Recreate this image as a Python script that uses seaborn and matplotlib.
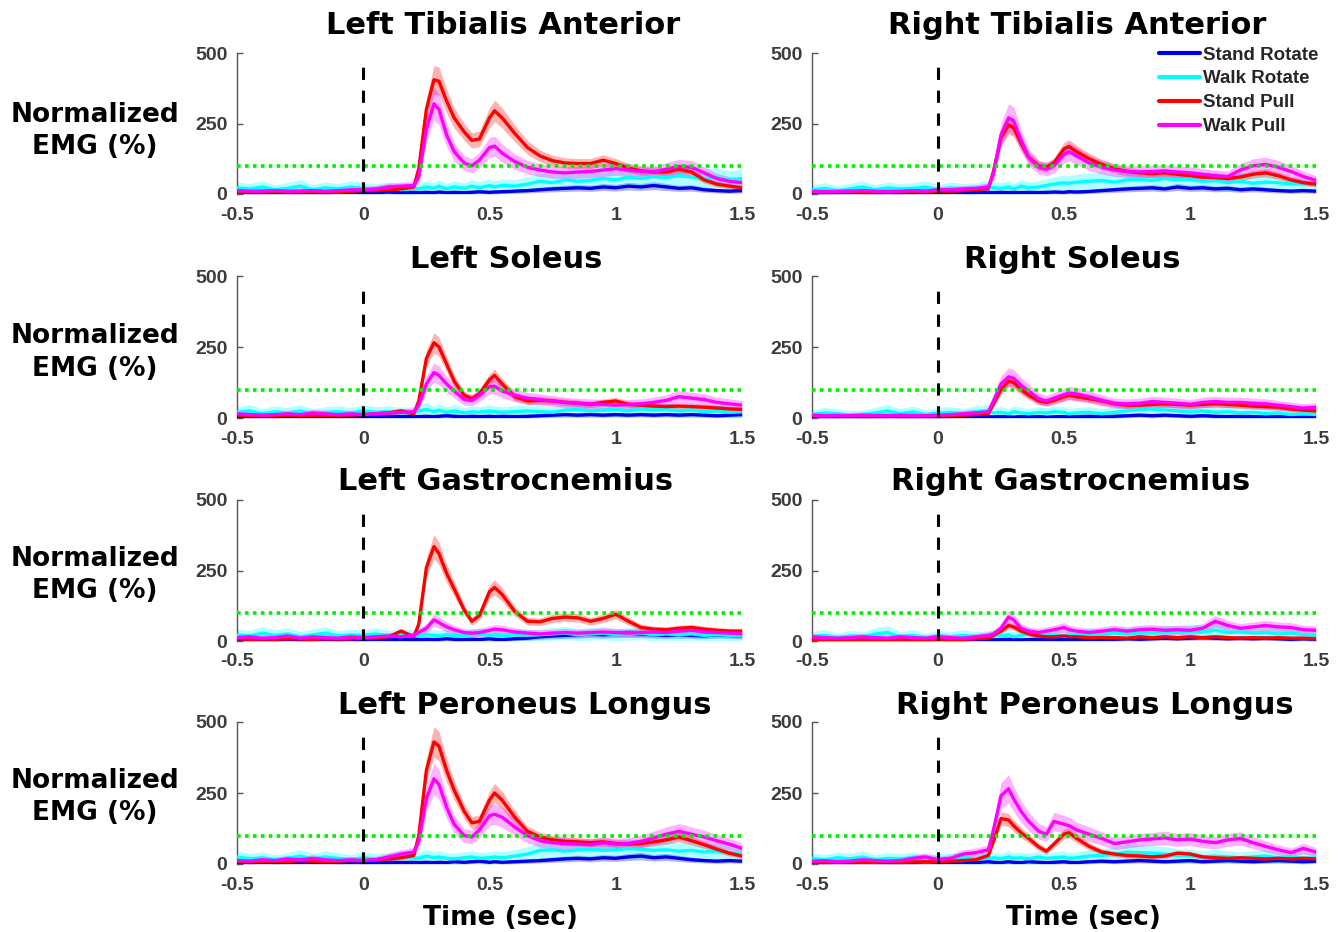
import matplotlib
matplotlib.use("Agg")
import matplotlib.pyplot as plt
import numpy as np
import pandas as pd
import seaborn as sns
from matplotlib.lines import Line2D

# ---------------- data ----------------
TIME = [-0.5, -0.45, -0.4, -0.35, -0.3, -0.25, -0.2, -0.15, -0.1, -0.05, 0.0, 0.05, 0.1, 0.15, 0.2,
        0.22, 0.25, 0.28, 0.3, 0.33, 0.36, 0.4, 0.43, 0.46, 0.5, 0.52, 0.55, 0.6,
        0.65, 0.7, 0.75, 0.8, 0.85, 0.9, 0.95, 1.0, 1.05, 1.1, 1.15, 1.2, 1.25, 1.3, 1.35, 1.4, 1.45, 1.5]

CONDITIONS = ["Stand Rotate", "Walk Rotate", "Stand Pull", "Walk Pull"]
MUSCLES = ["Left Tibialis Anterior", "Right Tibialis Anterior",
           "Left Soleus", "Right Soleus",
           "Left Gastrocnemius", "Right Gastrocnemius",
           "Left Peroneus Longus", "Right Peroneus Longus"]
X_TICKS = [-0.5, 0, 0.5, 1, 1.5]
X_TICK_LABELS = ["-0.5", "0", "0.5", "1", "1.5"]
Y_TICKS = [0, 250, 500]
THRESHOLD = 100

# Left Tibialis Anterior
LTA_STAND_ROTATE = [8, 5, 6, 4, 7, 5, 6, 4, 8, 5, 6, 5, 7, 5, 6,
                    5, 6, 5, 7, 5, 6, 5, 6, 8, 6, 7, 8, 10,
                    12, 15, 18, 20, 22, 20, 25, 22, 28, 25, 30, 25, 20, 22, 15, 12, 10, 12]
LTA_WALK_ROTATE = [22, 18, 25, 15, 20, 28, 15, 22, 18, 25, 20, 18, 22, 15, 20,
                   18, 25, 20, 28, 18, 25, 20, 28, 22, 30, 25, 30, 28,
                   35, 45, 40, 50, 45, 48, 55, 50, 60, 55, 62, 58, 65, 60, 55, 58, 50, 55]
LTA_STAND_PULL = [10, 8, 9, 10, 8, 9, 10, 8, 9, 10, 12, 12, 15, 18, 25,
                  90, 300, 405, 400, 330, 270, 220, 190, 195, 270, 295, 270, 215,
                  165, 135, 118, 110, 108, 108, 120, 108, 92, 82, 78, 78, 88, 78, 50, 35, 28, 22]
LTA_WALK_PULL = [12, 10, 10, 12, 10, 10, 12, 10, 12, 15, 15, 18, 25, 28, 30,
                 60, 230, 320, 300, 210, 150, 110, 100, 120, 165, 170, 145, 115,
                 95, 85, 78, 75, 78, 80, 85, 90, 85, 80, 78, 88, 98, 95, 75, 55, 45, 40]

# Right Tibialis Anterior
RTA_STAND_ROTATE = [5, 6, 4, 5, 6, 5, 4, 6, 5, 5, 6, 5, 6, 5, 6,
                    5, 6, 5, 6, 5, 6, 5, 6, 7, 6, 8, 7, 9,
                    12, 15, 18, 20, 22, 18, 25, 20, 22, 18, 20, 15, 18, 15, 12, 10, 12, 10]
RTA_WALK_ROTATE = [15, 20, 12, 18, 25, 15, 22, 18, 20, 25, 15, 22, 18, 20, 25,
                   22, 20, 25, 18, 28, 22, 25, 30, 35, 40, 38, 42, 45,
                   48, 42, 50, 52, 48, 55, 50, 52, 45, 48, 40, 45, 38, 42, 40, 35, 38, 32]
RTA_STAND_PULL = [8, 7, 8, 9, 8, 8, 9, 8, 10, 9, 10, 10, 12, 15, 20,
                  80, 200, 245, 235, 180, 130, 100, 95, 110, 160, 168, 150, 125,
                  105, 90, 80, 75, 72, 75, 70, 65, 60, 58, 55, 60, 70, 75, 65, 50, 40, 35]
RTA_WALK_PULL = [10, 8, 9, 10, 12, 10, 8, 10, 12, 10, 15, 15, 18, 20, 25,
                 70, 210, 270, 260, 190, 130, 95, 88, 100, 140, 150, 135, 110,
                 95, 85, 80, 78, 80, 82, 78, 75, 70, 65, 62, 85, 100, 105, 95, 80, 62, 48]

# Left Soleus
LSO_STAND_ROTATE = [5, 4, 6, 5, 4, 6, 5, 4, 5, 6, 5, 4, 6, 5, 5,
                    5, 6, 5, 6, 8, 6, 5, 6, 5, 6, 5, 6, 5,
                    6, 8, 10, 12, 10, 12, 10, 12, 10, 12, 10, 12, 10, 12, 10, 8, 10, 12]
LSO_WALK_ROTATE = [20, 25, 15, 22, 18, 25, 15, 20, 22, 18, 25, 20, 22, 18, 20,
                   25, 30, 22, 28, 20, 25, 18, 22, 20, 25, 22, 20, 22,
                   25, 22, 20, 28, 30, 25, 28, 30, 25, 32, 28, 30, 25, 28, 22, 25, 20, 22]
LSO_STAND_PULL = [10, 8, 9, 8, 10, 9, 8, 9, 10, 10, 12, 15, 18, 25, 15,
                  60, 210, 265, 250, 190, 130, 80, 68, 85, 135, 150, 120, 75,
                  60, 62, 60, 55, 52, 48, 55, 60, 48, 45, 42, 40, 42, 40, 38, 35, 32, 30]
LSO_WALK_PULL = [15, 12, 10, 12, 15, 12, 18, 15, 12, 15, 12, 15, 18, 20, 22,
                 45, 120, 160, 150, 120, 95, 65, 62, 80, 110, 112, 95, 80,
                 70, 65, 60, 55, 52, 50, 48, 45, 48, 50, 55, 62, 75, 70, 65, 55, 50, 45]

# Right Soleus
RSO_STAND_ROTATE = [4, 5, 3, 4, 5, 3, 4, 5, 3, 4, 5, 4, 3, 5, 4,
                    4, 5, 4, 3, 5, 4, 5, 3, 4, 5, 4, 5, 6,
                    5, 6, 8, 10, 8, 10, 8, 6, 8, 6, 5, 6, 5, 4, 5, 4, 3, 4]
RSO_WALK_ROTATE = [12, 18, 15, 10, 12, 18, 25, 15, 22, 12, 18, 20, 15, 22, 25,
                   18, 20, 15, 22, 18, 15, 20, 18, 22, 20, 15, 18, 20,
                   15, 20, 25, 30, 32, 28, 25, 22, 25, 20, 22, 18, 20, 15, 18, 12, 15, 12]
RSO_STAND_PULL = [8, 6, 7, 8, 6, 7, 8, 7, 6, 8, 7, 8, 10, 12, 15,
                  50, 100, 130, 125, 100, 80, 60, 55, 62, 75, 80, 75, 68,
                  60, 50, 45, 45, 48, 50, 48, 45, 48, 50, 48, 45, 42, 40, 38, 32, 28, 25]
RSO_WALK_PULL = [10, 8, 9, 8, 10, 9, 8, 10, 9, 8, 10, 12, 15, 18, 22,
                 60, 120, 145, 140, 115, 95, 68, 60, 70, 82, 88, 85, 75,
                 62, 52, 50, 52, 58, 55, 52, 48, 55, 58, 55, 55, 52, 50, 45, 40, 35, 38]

# Left Gastrocnemius
LGA_STAND_ROTATE = [5, 6, 4, 5, 6, 5, 4, 6, 5, 4, 6, 5, 6, 5, 6,
                    5, 6, 5, 6, 8, 6, 5, 6, 5, 8, 6, 5, 8,
                    10, 15, 18, 20, 22, 25, 22, 25, 28, 25, 22, 20, 22, 20, 18, 22, 20, 18]
LGA_WALK_ROTATE = [22, 18, 28, 20, 25, 15, 22, 28, 18, 22, 20, 25, 18, 22, 20,
                   18, 22, 20, 18, 22, 20, 18, 22, 25, 20, 22, 18, 22,
                   20, 22, 25, 28, 22, 25, 28, 22, 25, 28, 22, 25, 22, 25, 20, 22, 20, 18]
LGA_STAND_PULL = [8, 6, 7, 6, 8, 7, 6, 8, 7, 8, 10, 12, 15, 35, 15,
                  60, 260, 335, 310, 240, 185, 110, 70, 90, 175, 190, 165, 105,
                  70, 68, 80, 85, 82, 70, 80, 95, 70, 48, 42, 40, 45, 48, 42, 38, 35, 35]
LGA_WALK_PULL = [12, 15, 10, 12, 18, 10, 15, 12, 10, 15, 12, 15, 18, 15, 20,
                 30, 45, 75, 65, 50, 40, 30, 28, 30, 38, 42, 40, 32,
                 28, 25, 28, 30, 28, 30, 32, 30, 28, 30, 32, 30, 35, 38, 32, 30, 28, 25]

# Right Gastrocnemius
RGA_STAND_ROTATE = [5, 4, 5, 6, 4, 5, 6, 5, 4, 6, 5, 4, 5, 4, 5,
                    4, 5, 6, 5, 4, 5, 6, 5, 4, 5, 6, 5, 6,
                    5, 6, 8, 6, 8, 10, 8, 10, 12, 10, 8, 10, 8, 10, 8, 6, 8, 6]
RGA_WALK_ROTATE = [15, 20, 12, 18, 15, 25, 30, 15, 20, 12, 18, 15, 20, 15, 18,
                   20, 18, 22, 15, 20, 25, 18, 22, 20, 18, 22, 20, 25,
                   22, 28, 25, 30, 28, 32, 30, 35, 32, 38, 30, 32, 28, 30, 25, 28, 22, 20]
RGA_STAND_PULL = [5, 6, 4, 5, 6, 4, 5, 6, 5, 4, 6, 5, 6, 8, 10,
                  20, 35, 55, 50, 35, 25, 18, 15, 15, 18, 15, 15, 12,
                  12, 12, 10, 15, 12, 15, 12, 15, 12, 15, 12, 10, 12, 10, 12, 10, 10, 8]
RGA_WALK_PULL = [15, 12, 10, 12, 15, 12, 10, 15, 12, 10, 15, 12, 10, 15, 20,
                 25, 45, 85, 75, 45, 35, 30, 35, 40, 48, 40, 35, 30,
                 35, 40, 35, 40, 42, 38, 40, 38, 45, 70, 55, 45, 50, 55, 50, 48, 40, 38]

# Left Peroneus Longus
LPL_STAND_ROTATE = [5, 4, 6, 5, 6, 5, 4, 6, 5, 5, 6, 4, 6, 5, 6,
                    5, 6, 5, 6, 5, 8, 6, 8, 10, 6, 8, 6, 8,
                    10, 12, 15, 18, 20, 18, 22, 20, 25, 28, 22, 25, 20, 15, 12, 10, 12, 10]
LPL_WALK_ROTATE = [25, 18, 22, 15, 20, 28, 18, 25, 20, 15, 22, 18, 20, 25, 22,
                   20, 28, 22, 25, 20, 18, 22, 25, 20, 22, 25, 22, 28,
                   35, 48, 50, 45, 50, 52, 48, 50, 55, 52, 48, 50, 45, 48, 42, 45, 40, 35]
LPL_STAND_PULL = [10, 8, 9, 10, 8, 12, 10, 9, 10, 12, 12, 15, 18, 22, 30,
                  100, 330, 430, 415, 330, 260, 185, 145, 150, 225, 250, 225, 165,
                  115, 95, 85, 80, 78, 75, 78, 72, 70, 72, 78, 85, 95, 82, 68, 52, 38, 28]
LPL_WALK_PULL = [12, 10, 15, 12, 18, 15, 20, 15, 12, 15, 12, 15, 25, 35, 42,
                 80, 230, 300, 280, 200, 140, 100, 95, 120, 170, 175, 165, 130,
                 100, 82, 75, 72, 70, 68, 75, 70, 72, 80, 92, 105, 115, 105, 95, 82, 70, 55]

# Right Peroneus Longus
RPL_STAND_ROTATE = [6, 5, 8, 5, 6, 8, 5, 6, 5, 8, 6, 5, 6, 5, 8,
                    6, 5, 8, 6, 5, 8, 6, 5, 6, 8, 6, 5, 8,
                    10, 8, 10, 12, 10, 8, 10, 12, 8, 10, 12, 10, 8, 10, 12, 10, 8, 10]
RPL_WALK_ROTATE = [20, 15, 22, 18, 25, 15, 20, 18, 22, 15, 18, 20, 22, 18, 20,
                   22, 18, 25, 20, 22, 18, 25, 20, 22, 25, 20, 22, 28,
                   30, 35, 42, 40, 38, 35, 30, 28, 25, 28, 25, 22, 25, 28, 22, 25, 20, 22]
RPL_STAND_PULL = [8, 6, 7, 8, 6, 7, 8, 6, 7, 8, 8, 10, 12, 15, 30,
                  80, 160, 155, 135, 110, 90, 60, 45, 70, 105, 110, 90, 62,
                  42, 35, 30, 28, 25, 28, 38, 35, 25, 22, 20, 22, 20, 18, 20, 18, 20, 18]
RPL_WALK_PULL = [10, 12, 8, 10, 15, 12, 10, 12, 20, 25, 15, 20, 35, 40, 50,
                 120, 240, 265, 230, 185, 150, 115, 105, 150, 140, 135, 120, 105,
                 90, 72, 78, 85, 88, 92, 85, 88, 80, 75, 85, 90, 75, 62, 50, 40, 55, 42]

PANEL_DATA = [
    [LTA_STAND_ROTATE, LTA_WALK_ROTATE, LTA_STAND_PULL, LTA_WALK_PULL],
    [RTA_STAND_ROTATE, RTA_WALK_ROTATE, RTA_STAND_PULL, RTA_WALK_PULL],
    [LSO_STAND_ROTATE, LSO_WALK_ROTATE, LSO_STAND_PULL, LSO_WALK_PULL],
    [RSO_STAND_ROTATE, RSO_WALK_ROTATE, RSO_STAND_PULL, RSO_WALK_PULL],
    [LGA_STAND_ROTATE, LGA_WALK_ROTATE, LGA_STAND_PULL, LGA_WALK_PULL],
    [RGA_STAND_ROTATE, RGA_WALK_ROTATE, RGA_STAND_PULL, RGA_WALK_PULL],
    [LPL_STAND_ROTATE, LPL_WALK_ROTATE, LPL_STAND_PULL, LPL_WALK_PULL],
    [RPL_STAND_ROTATE, RPL_WALK_ROTATE, RPL_STAND_PULL, RPL_WALK_PULL],
]

# ---------------- style ----------------
COLORS = {"Stand Rotate": "#0000e6", "Walk Rotate": "#00ffff",
          "Stand Pull": "#ff0000", "Walk Pull": "#ff00ff"}
BAND_REL = {"Stand Rotate": 0.35, "Walk Rotate": 0.4, "Stand Pull": 0.11, "Walk Pull": 0.15}
BAND_ABS = {"Stand Rotate": 4, "Walk Rotate": 12, "Stand Pull": 6, "Walk Pull": 10}

sns.set_style("white")
plt.rcParams["font.family"] = ["DejaVu Sans"]
TICK_FONT = dict(family="Liberation Sans", weight="bold", size=14)
TICK_COLOR = "#3c3c3c"

W, H = 1344, 932
fig = plt.figure(figsize=(W / 100, H / 100), dpi=100)

col_x = [237, 812]
col_w = [505, 504]
row_top = [53, 276, 500, 722]
row_bot = [194, 418, 641, 864]
title_y = [25, 259, 482, 705]
title_x = [[503, 1077], [506, 1072], [506, 1071], [525, 1095]]
ylab_y = [131, 353, 575, 797]

axes = []
for i, muscle in enumerate(MUSCLES):
    r, c = divmod(i, 2)
    ax = fig.add_axes([col_x[c] / W, 1 - row_bot[r] / H, col_w[c] / W, (row_bot[r] - row_top[r]) / H])
    axes.append(ax)
    series = PANEL_DATA[i]
    frames = []
    for cond, vals in zip(CONDITIONS, series):
        v = np.asarray(vals, dtype=float)
        half = BAND_REL[cond] * v + BAND_ABS[cond]
        ax.fill_between(TIME, np.clip(v - half, 0, None), v + half,
                        color=COLORS[cond], alpha=0.3, linewidth=0, zorder=1)
        frames.append(pd.DataFrame({"time": TIME, "emg": v, "condition": cond}))
    df = pd.concat(frames, ignore_index=True)
    sns.lineplot(data=df, x="time", y="emg", hue="condition", hue_order=CONDITIONS,
                 palette=COLORS, linewidth=2.4, legend=False, errorbar=None, ax=ax, zorder=3)

    ax.axhline(THRESHOLD, color="#00ee00", linestyle=(0, (1, 1.2)), linewidth=2.6, zorder=4)
    ax.vlines(0, 0, 482, colors="black", linestyles=(0, (4, 3.5)), linewidth=2.2, zorder=5)

    ax.set_xlim(-0.5, 1.5)
    ax.set_ylim(0, 500)
    ax.set_xticks(X_TICKS)
    ax.set_xticklabels(X_TICK_LABELS, fontdict=TICK_FONT, color=TICK_COLOR)
    ax.set_yticks(Y_TICKS)
    ax.set_yticklabels([str(t) for t in Y_TICKS], fontdict=TICK_FONT, color=TICK_COLOR)
    ax.tick_params(axis="x", length=0, pad=9)
    ax.tick_params(axis="y", direction="in", length=4, width=1, color="#555555", pad=7, left=True)
    ax.set_xlabel("")
    ax.set_ylabel("")
    for s in ["top", "right", "bottom"]:
        ax.spines[s].set_visible(False)
    ax.spines["left"].set_color("#555555")
    ax.spines["left"].set_linewidth(1.0)
    ax.set_facecolor("none")

    fig.text(title_x[r][c] / W, 1 - title_y[r] / H, muscle, ha="center", va="center",
             fontsize=22, fontweight="bold", color="black")
    if c == 0:
        fig.text(95 / W, 1 - ylab_y[r] / H, "Normalized\nEMG (%)", ha="center", va="center",
                 fontsize=19, fontweight="bold", color="black", linespacing=1.35)

for c, xc in enumerate([500, 1083]):
    fig.text(xc / W, 1 - 918 / H, "Time (sec)", ha="center", va="center",
             fontsize=19, fontweight="bold", color="black")

handles = [Line2D([0], [0], color=COLORS[c], linewidth=3) for c in CONDITIONS]
leg = axes[1].legend(handles, CONDITIONS, loc="upper right", bbox_to_anchor=(1.02, 1.1),
                     frameon=False, handlelength=2.2, handletextpad=0.15, labelspacing=0.36,
                     borderaxespad=0, prop=dict(family="Liberation Sans", weight="bold", size=13.5))

fig.savefig("out.png", dpi=100)
